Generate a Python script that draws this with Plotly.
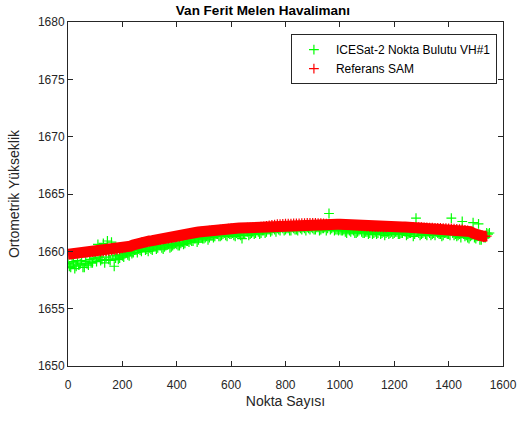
import plotly.graph_objects as go

# ---- data ----
sam_x = list(range(0, 1550, 10))
sam_y = [
    1659.75, 1659.78, 1659.80, 1659.82, 1659.85, 1659.86, 1659.88, 1659.90, 1659.92, 1659.93,
    1659.95, 1659.97, 1659.98, 1660.00, 1660.03, 1660.05, 1660.08, 1660.10, 1660.13, 1660.18,
    1660.25, 1660.32, 1660.38, 1660.45, 1660.55, 1660.65, 1660.72, 1660.78, 1660.82, 1660.86,
    1660.90, 1660.93, 1660.96, 1660.99, 1661.02, 1661.05, 1661.08, 1661.12, 1661.15, 1661.18,
    1661.22, 1661.28, 1661.35, 1661.42, 1661.50, 1661.56, 1661.60, 1661.64, 1661.68, 1661.72,
    1661.75, 1661.78, 1661.80, 1661.83, 1661.86, 1661.88, 1661.90, 1661.93, 1661.95, 1661.97,
    1662.00, 1662.01, 1662.02, 1662.03, 1662.04, 1662.05, 1662.06, 1662.07, 1662.08, 1662.10,
    1662.12, 1662.15, 1662.18, 1662.22, 1662.26, 1662.30, 1662.33, 1662.36, 1662.38, 1662.40,
    1662.41, 1662.42, 1662.42, 1662.43, 1662.43, 1662.44, 1662.45, 1662.46, 1662.47, 1662.48,
    1662.48, 1662.47, 1662.46, 1662.45, 1662.44, 1662.42, 1662.40, 1662.39, 1662.38, 1662.37,
    1662.36, 1662.34, 1662.32, 1662.30, 1662.28, 1662.26, 1662.24, 1662.22, 1662.20, 1662.18,
    1662.16, 1662.14, 1662.13, 1662.12, 1662.12, 1662.11, 1662.10, 1662.10, 1662.11, 1662.12,
    1662.12, 1662.13, 1662.13, 1662.12, 1662.12, 1662.11, 1662.10, 1662.10, 1662.09, 1662.10,
    1662.10, 1662.09, 1662.08, 1662.07, 1662.06, 1662.05, 1662.05, 1662.04, 1662.03, 1662.02,
    1662.00, 1661.99, 1661.98, 1661.96, 1661.94, 1661.92, 1661.88, 1661.82, 1661.72, 1661.58,
    1661.45, 1661.35, 1661.30, 1661.30, 1661.33,
]

ice_x_a = list(range(0, 1560, 10))
ice_y_a = [
    1658.9, 1658.6, 1659.1, 1658.7, 1658.8, 1659.2, 1658.6, 1658.9, 1659.3, 1659.0,
    1659.4, 1660.6, 1659.2, 1660.7, 1659.5, 1659.3, 1660.8, 1658.7, 1659.6, 1659.4,
    1659.6, 1659.8, 1659.7, 1660.0, 1659.9, 1660.1, 1660.2, 1660.0, 1660.3, 1660.2,
    1660.3, 1660.1, 1660.4, 1660.3, 1660.5, 1660.2, 1660.5, 1660.6, 1660.4, 1660.6,
    1660.6, 1660.5, 1660.8, 1660.7, 1660.9, 1661.0, 1660.9, 1661.1, 1661.0, 1661.2,
    1661.1, 1661.3, 1661.2, 1661.4, 1661.3, 1661.5, 1661.3, 1661.5, 1661.4, 1661.6,
    1661.5, 1661.4, 1661.6, 1661.5, 1661.1, 1661.6, 1661.7, 1661.5, 1661.7, 1661.6,
    1661.7, 1661.6, 1661.8, 1661.7, 1661.9, 1661.8, 1661.9, 1662.0, 1661.8, 1662.0,
    1661.9, 1662.0, 1661.8, 1662.0, 1661.9, 1662.1, 1661.9, 1662.0, 1662.1, 1661.9,
    1662.0, 1661.9, 1662.1, 1661.9, 1662.0, 1661.8, 1663.3, 1662.0, 1661.8, 1661.9,
    1661.9, 1661.8, 1661.7, 1661.9, 1661.7, 1661.8, 1661.6, 1661.8, 1661.7, 1661.6,
    1661.7, 1661.6, 1661.5, 1661.7, 1661.6, 1661.5, 1661.7, 1661.6, 1661.5, 1661.7,
    1661.6, 1661.7, 1661.5, 1661.6, 1661.7, 1661.5, 1661.6, 1661.3, 1662.9, 1661.6,
    1661.5, 1661.7, 1661.4, 1661.6, 1661.5, 1661.4, 1661.6, 1661.5, 1661.4, 1661.6,
    1661.5, 1662.9, 1661.4, 1661.3, 1661.5, 1662.6, 1661.3, 1661.2, 1661.3, 1662.5,
    1661.1, 1662.4, 1661.0, 1661.2, 1661.6, 1661.6,
]

ice_x_b = list(range(5, 1550, 10))
ice_y_b = [
    1658.7, 1659.0, 1658.5, 1659.2, 1658.9, 1658.6, 1659.1, 1658.8, 1659.0, 1659.4,
    1659.1, 1659.5, 1659.3, 1659.0, 1660.9, 1659.2, 1659.6, 1659.4, 1659.3, 1659.7,
    1659.5, 1659.9, 1659.6, 1659.8, 1660.1, 1659.9, 1660.1, 1660.3, 1660.1, 1660.0,
    1660.2, 1660.4, 1660.2, 1660.5, 1660.3, 1660.4, 1660.6, 1660.3, 1660.5, 1660.7,
    1660.5, 1660.7, 1660.6, 1660.9, 1660.8, 1660.9, 1661.1, 1660.8, 1661.2, 1661.1,
    1661.2, 1661.0, 1661.4, 1661.2, 1661.5, 1661.3, 1661.4, 1661.6, 1661.3, 1661.5,
    1661.6, 1661.3, 1661.5, 1661.4, 1661.6, 1661.7, 1661.4, 1661.6, 1661.5, 1661.8,
    1661.5, 1661.8, 1661.6, 1661.9, 1661.7, 1662.0, 1661.7, 1661.9, 1662.1, 1661.8,
    1662.0, 1661.8, 1662.1, 1661.9, 1661.8, 1662.0, 1662.1, 1661.8, 1662.0, 1662.1,
    1661.9, 1662.1, 1661.8, 1662.0, 1662.1, 1662.0, 1661.9, 1662.1, 1661.9, 1661.8,
    1661.8, 1661.9, 1661.6, 1661.8, 1661.9, 1661.6, 1661.7, 1661.9, 1661.6, 1661.7,
    1661.5, 1661.8, 1661.6, 1661.5, 1661.8, 1661.6, 1661.4, 1661.7, 1661.6, 1661.5,
    1661.7, 1661.5, 1661.6, 1661.8, 1661.4, 1661.6, 1661.7, 1661.5, 1661.7, 1661.4,
    1661.6, 1661.5, 1661.7, 1661.4, 1661.6, 1661.7, 1661.5, 1661.3, 1661.6, 1661.5,
    1661.4, 1661.6, 1661.5, 1661.4, 1661.2, 1661.5, 1661.4, 1661.1, 1661.4, 1661.2,
    1661.3, 1661.0, 1661.4, 1661.2, 1661.5,
]

x_ticks = [0, 200, 400, 600, 800, 1000, 1200, 1400, 1600]
y_ticks = [1650, 1655, 1660, 1665, 1670, 1675, 1680]

FONT = "Arial, Liberation Sans, Helvetica, sans-serif"
AX = "#262626"

ice_x = ice_x_a + ice_x_b
ice_y = ice_y_a + ice_y_b

fig = go.Figure()
fig.add_trace(go.Scatter(
    x=ice_x, y=ice_y, mode="markers", name="ICESat-2 Nokta Bulutu VH#1",
    marker=dict(symbol="cross-thin", size=7, line=dict(color="#00ff00", width=1.2), color="#00ff00"),
))
fig.add_trace(go.Scatter(
    x=sam_x, y=sam_y, mode="lines", showlegend=False, hoverinfo="skip",
    line=dict(color="#ff0000", width=11),
))
fig.add_trace(go.Scatter(
    x=sam_x, y=sam_y, mode="markers", name="Referans SAM",
    marker=dict(symbol="cross-thin", size=7, line=dict(color="#ff0000", width=1.2), color="#ff0000"),
))

axis_common = dict(
    showline=True, linecolor=AX, linewidth=1, mirror="ticks",
    ticks="inside", ticklen=5, tickcolor=AX, tickwidth=1,
    showgrid=False, zeroline=False, automargin=False,
    tickfont=dict(family=FONT, size=12, color=AX),
)

fig.update_layout(
    width=529, height=423,
    margin=dict(l=68, r=26, t=22, b=57, autoexpand=False),
    paper_bgcolor="white", plot_bgcolor="white",
    font=dict(family=FONT, color=AX),
    title=dict(text="<b>Van Ferit Melen Havalimanı</b>", x=0.497, xanchor="center",
               y=0.976, yanchor="middle", font=dict(size=13.5, color="black", family=FONT)),
    xaxis=dict(range=[0, 1600], tickvals=x_ticks, ticktext=[str(v) for v in x_ticks],
               ticklabelstandoff=8,
               title=dict(text="Nokta Sayısı", font=dict(size=14, color=AX, family=FONT), standoff=4),
               **axis_common),
    yaxis=dict(range=[1650, 1680], tickvals=y_ticks, ticktext=[str(v) for v in y_ticks],
               title=dict(text="Ortometrik Yükseklik", font=dict(size=14, color=AX, family=FONT), standoff=14),
               **axis_common),
    legend=dict(x=0.986, xanchor="right", y=0.965, yanchor="top",
                bgcolor="white", bordercolor=AX, borderwidth=1,
                font=dict(family=FONT, size=12, color="black"),
                itemwidth=34, tracegroupgap=0),
    showlegend=True,
)

fig.write_html("out.html", config={"displayModeBar": False},
               post_script="document.body.style.margin='0';")
